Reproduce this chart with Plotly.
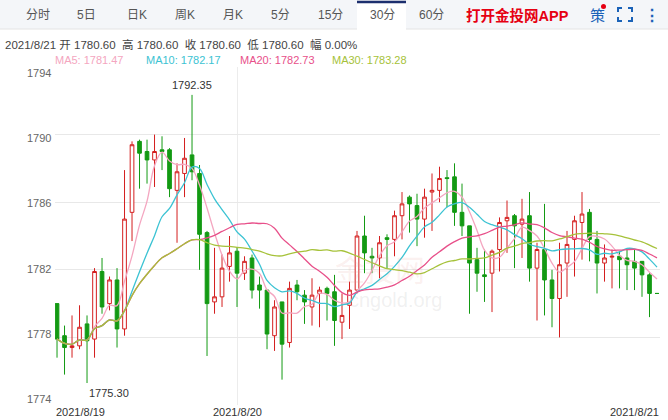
import plotly.graph_objects as go
import pandas as pd

opens  = [1780.0,1778.1,1777.4,1777.5,1778.8,1777.9,1781.9,1780.0,1781.4,1778.5,1785.4,1789.6,1789.0,1788.5,1789.1,1789.1,1786.7,1787.7,1788.8,1787.7,
          1784.2,1780.1,1780.4,1782.2,1783.1,1781.8,1782.7,1781.1,1780.8,1778.1,1780.1,1777.7,1781.1,1780.5,1779.8,1780.6,1780.9,1780.7,1778.9,1779.9,
          1780.8,1784.0,1782.8,1782.7,1783.9,1783.8,1785.2,1786.3,1785.8,1785.0,1786.6,1786.7,1787.45,1787.5,1785.4,1784.6,1782.6,1781.7,1781.8,1783.2,
          1784.9,1785.2,1784.7,1785.2,1782.1,1783.2,1781.4,1780.3,1782.4,1783.8,1784.8,1785.4,1783.8,1782.4,1782.75,1782.8,1782.7,1782.5,1782.5,1781.7,1780.6]
closes = [1777.9,1777.4,1777.5,1778.6,1777.8,1781.9,1779.8,1781.4,1778.5,1785.0,1789.4,1788.9,1788.5,1789.0,1789.0,1786.8,1787.8,1788.6,1787.8,1784.1,
          1780.0,1780.4,1782.1,1783.0,1781.8,1782.5,1780.8,1780.8,1778.2,1779.8,1777.6,1780.9,1780.7,1780.1,1780.5,1780.8,1780.6,1779.0,1779.3,1780.8,
          1784.0,1783.0,1782.7,1783.6,1783.8,1785.2,1785.9,1785.9,1785.0,1786.3,1786.7,1787.4,1787.4,1785.4,1784.6,1782.4,1781.8,1781.6,1783.1,1784.8,
          1785.1,1784.6,1785.0,1782.1,1783.2,1781.4,1780.3,1782.3,1783.5,1784.9,1785.3,1783.8,1782.4,1782.7,1782.8,1782.6,1782.3,1782.1,1781.7,1780.6,1780.6]
highs  = [1780.0,1778.7,1779.3,1779.9,1779.3,1782.1,1782.7,1781.6,1782.1,1787.9,1789.6,1789.7,1789.7,1790.0,1789.9,1789.2,1788.3,1789.8,1792.35,1788.2,
          1784.3,1783.3,1782.9,1784.0,1783.3,1782.8,1782.9,1781.6,1780.8,1780.2,1780.1,1781.3,1781.4,1780.8,1781.5,1781.0,1781.0,1781.7,1780.6,1781.3,
          1784.3,1785.2,1783.3,1784.0,1784.1,1785.5,1786.6,1786.4,1786.5,1786.8,1787.7,1788.1,1787.9,1788.3,1787.1,1784.6,1783.3,1783.2,1783.2,1785.1,
          1786.1,1785.3,1786.2,1786.6,1783.6,1785.9,1782.0,1783.6,1784.3,1785.2,1786.6,1785.6,1784.3,1783.5,1783.2,1783.1,1783.2,1783.2,1782.5,1781.8,1780.6]
lows   = [1776.8,1775.8,1776.8,1777.3,1775.30,1776.8,1779.4,1779.6,1777.4,1778.1,1783.7,1786.8,1787.1,1786.9,1787.9,1786.3,1783.6,1786.3,1787.3,1782.0,
          1776.9,1779.4,1779.8,1781.3,1779.8,1781.4,1780.3,1779.7,1777.3,1777.2,1775.5,1777.4,1780.2,1778.8,1778.7,1778.6,1779.0,1777.5,1777.9,1778.5,
          1780.6,1781.8,1781.8,1781.5,1782.1,1782.8,1783.8,1784.2,1783.4,1783.9,1784.3,1786.0,1785.7,1784.6,1784.0,1779.4,1780.7,1780.1,1779.5,1781.9,
          1783.0,1782.1,1782.7,1781.3,1779.0,1779.3,1778.6,1778.0,1780.4,1781.6,1782.6,1782.5,1780.6,1781.3,1780.9,1780.9,1780.8,1780.8,1780.4,1779.2,1780.6]
date_labels = ["2021/8/19", "2021/8/20", "2021/8/21"]
date_index = [0, 24, 80]
y_ticks = [1794, 1790, 1786, 1782, 1778, 1774]
tabs = ["分时", "5日", "日K", "周K", "月K", "5分", "15分", "30分", "60分"]
tab_x = [38, 86, 137, 185, 233, 280, 330, 382, 431]
ma_periods = [5, 10, 20, 30]
ma_colors = ["#f4a6c0", "#3cc3d3", "#e8508a", "#a6c23a"]
ma_legend = ["MA5: 1781.47", "MA10: 1782.17", "MA20: 1782.73", "MA30: 1783.28"]
ma_legend_x = [53, 144, 238, 330]

x = list(range(len(opens)))
s = pd.Series(closes)

W, H = 668, 420
L, R, T, B = 55, 660, 67, 405
def px(v): return (v - L) / (R - L)
def py(v): return (B - v) / (B - T)

fig = go.Figure()
for p, c in zip(ma_periods, ma_colors):
    fig.add_trace(go.Scatter(x=x, y=s.rolling(p, min_periods=1).mean(), mode="lines",
                             line=dict(color=c, width=1.3, shape="spline"), hoverinfo="skip"))
fig.add_trace(go.Candlestick(x=x, open=opens, high=highs, low=lows, close=closes,
    increasing=dict(line=dict(color="#d41e1e", width=1), fillcolor="white"),
    decreasing=dict(line=dict(color="#139a13", width=1), fillcolor="#139a13"),
    whiskerwidth=0))

def pa(text, xx, yy, size=12, color="#555", xanchor="center", **kw):
    return dict(x=px(xx), y=py(yy), xref="paper", yref="paper", xanchor=xanchor, yanchor="middle",
                text=text, showarrow=False, font=dict(size=size, color=color), **kw)

ann = []
for lbl, i, anc in zip(date_labels, date_index, ["left", "center", "right"]):
    ann.append(dict(x=i, xref="x", y=py(412), yref="paper", yanchor="middle", xanchor=anc,
                    xshift={"left": -3, "center": 0, "right": 4}[anc],
                    text=lbl, showarrow=False, font=dict(size=11, color="#333")))
for k, v in enumerate(y_ticks):
    ann.append(pa(str(v), 53, 73 + k * 65.2, size=11, color="#666", xanchor="right"))
ann.append(dict(x=18, y=max(highs), text="1792.35", showarrow=False, yanchor="bottom", xanchor="center",
                yshift=2, font=dict(size=11, color="#333")))
ann.append(dict(x=4, y=min(lows), text="1775.30", showarrow=False, yanchor="top", xanchor="left",
                yshift=-2, font=dict(size=11, color="#333")))
ann.append(pa("2021/8/21 开 1780.60  高 1780.60  收 1780.60  低 1780.60  幅 0.00%", 3, 44,
              size=11.5, color="#444", xanchor="left"))
for t, xx, c in zip(ma_legend, ma_legend_x, ma_colors):
    ann.append(pa(t, xx, 60, size=11, color=c, xanchor="left"))
for t, xx in zip(tabs, tab_x):
    ann.append(pa(t, xx, 15, size=12, color="#555"))
ann.append(pa("<b>打开金投网APP</b>", 517, 15, size=14.5, color="#e60012"))
ann.append(pa("策", 597, 15, size=15, color="#1a62b8"))
ann.append(pa("<b>⋮</b>", 652, 15, size=16, color="#1a62b8"))
ann.append(pa("金投网", 380, 270, size=30, color="rgba(230,150,140,0.15)"))
ann.append(pa("cngold.org", 395, 300, size=20, color="rgba(150,150,150,0.15)"))

shapes = [
    dict(type="rect", xref="paper", yref="paper", x0=px(0), x1=px(668), y0=py(0), y1=py(29),
         fillcolor="#f4f6f9", line=dict(width=0), layer="below"),
    dict(type="rect", xref="paper", yref="paper", x0=px(357), x1=px(406), y0=py(2), y1=py(30),
         fillcolor="white", line=dict(width=0), layer="below"),
    dict(type="line", xref="paper", yref="paper", x0=px(357), x1=px(406), y0=py(2), y1=py(2),
         line=dict(color="#1c2f6e", width=2.5)),
    dict(type="line", xref="paper", yref="paper", x0=px(0), x1=px(357), y0=py(29), y1=py(29),
         line=dict(color="#e4e4e4", width=1)),
    dict(type="line", xref="paper", yref="paper", x0=px(406), x1=px(668), y0=py(29), y1=py(29),
         line=dict(color="#e4e4e4", width=1)),
    dict(type="circle", xref="paper", yref="paper", x0=px(601), x1=px(606), y0=py(9), y1=py(4),
         fillcolor="#e60012", line=dict(width=0)),
]
bx0, bx1, by0, by1 = 618, 632, 8, 21
for (cx, cy, dx, dy) in [(bx0, by0, 1, 1), (bx1, by0, -1, 1), (bx0, by1, 1, -1), (bx1, by1, -1, -1)]:
    shapes.append(dict(type="path", xref="paper", yref="paper",
        path=f"M {px(cx+4*dx)} {py(cy)} L {px(cx)} {py(cy)} L {px(cx)} {py(cy+4*dy)}",
        line=dict(color="#1a62b8", width=2)))

fig.update_layout(
    width=W, height=H, margin=dict(l=L, r=W - R, t=T, b=H - B),
    paper_bgcolor="white", plot_bgcolor="white", showlegend=False,
    font=dict(family="Liberation Sans, Noto Sans CJK SC, sans-serif"),
    xaxis=dict(range=[-0.27, 80.4], rangeslider=dict(visible=False), tickvals=[24],
               showticklabels=False, showgrid=True, gridcolor="#ececec", zeroline=False, ticks=""),
    yaxis=dict(range=[1774, 1794], tickvals=y_ticks, showticklabels=False,
               showgrid=True, gridcolor="#e8e8e8", zeroline=False, ticks=""),
    annotations=ann, shapes=shapes,
)
fig.write_html("out.html", config={"displayModeBar": False},
               post_script="document.body.style.margin='0';document.body.style.overflow='hidden';")
